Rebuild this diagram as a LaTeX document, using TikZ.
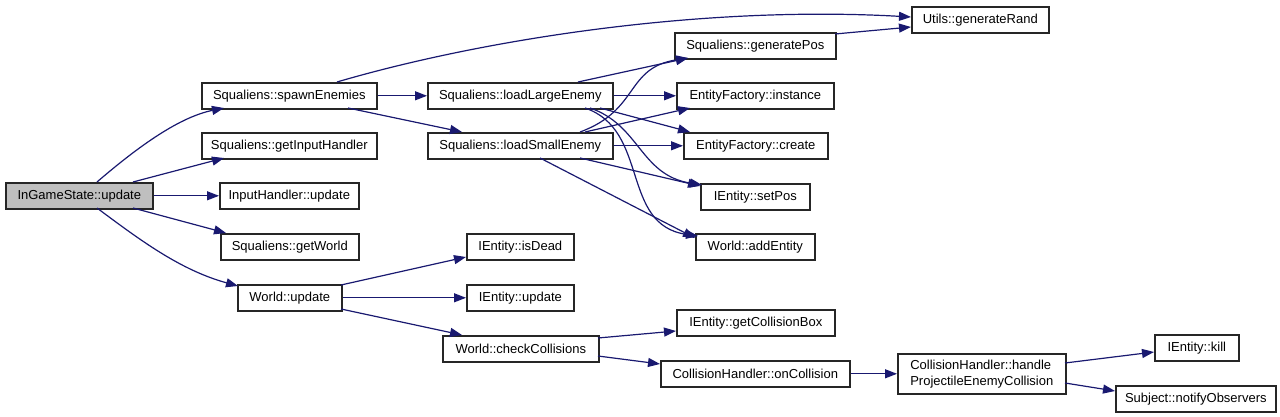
\documentclass[tikz,border=0pt]{standalone}
\usepackage{fontspec}
\setmainfont{Liberation Sans}
\usetikzlibrary{arrows.meta,calc}
\definecolor{edgeblue}{HTML}{191970}
\definecolor{focusgray}{HTML}{BFBFBF}
\tikzset{
  fnbox/.style={draw=black!85, line width=1.6pt, fill=white, anchor=north west,
    minimum height=26pt, inner sep=0pt, font=\fontsize{13}{16}\selectfont},
  call/.style={draw=edgeblue, line width=1.2pt,
    -{Triangle[length=12pt,width=9pt]}, edgeblue},
}
\begin{document}
\begin{tikzpicture}[x=1pt,y=-1pt]
\useasboundingbox (0,0) rectangle (1280,417);
% nodes
\node[fnbox, fill=focusgray, minimum width=147pt] (ig) at (5,182) {InGameState::update};
\node[fnbox, minimum width=175pt] (spawn) at (201,82) {Squaliens::spawnEnemies};
\node[fnbox, minimum width=175pt] (getIH) at (201,132) {Squaliens::getInputHandler};
\node[fnbox, minimum width=139pt] (ihupd) at (219,182) {InputHandler::update};
\node[fnbox, minimum width=138pt] (getWorld) at (220,233) {Squaliens::getWorld};
\node[fnbox, minimum width=104pt] (wupd) at (237,284) {World::update};
\node[fnbox, minimum width=185pt] (large) at (427,82) {Squaliens::loadLargeEnemy};
\node[fnbox, minimum width=185pt] (small) at (427,132) {Squaliens::loadSmallEnemy};
\node[fnbox, minimum width=161pt] (genPos) at (674,32) {Squaliens::generatePos};
\node[fnbox, minimum width=137pt] (rand) at (911,6) {Utils::generateRand};
\node[fnbox, minimum width=157pt] (inst) at (676,82) {EntityFactory::instance};
\node[fnbox, minimum width=144pt] (create) at (683,132) {EntityFactory::create};
\node[fnbox, minimum width=109pt] (setPos) at (700,183) {IEntity::setPos};
\node[fnbox, minimum width=119pt] (addEnt) at (695,233) {World::addEntity};
\node[fnbox, minimum width=107pt] (isDead) at (466,233) {IEntity::isDead};
\node[fnbox, minimum width=107pt] (eupd) at (466,284) {IEntity::update};
\node[fnbox, minimum width=156pt] (check) at (442,335) {World::checkCollisions};
\node[fnbox, minimum width=158pt] (box) at (676,309) {IEntity::getCollisionBox};
\node[fnbox, minimum width=189pt] (onCol) at (660,360) {CollisionHandler::onCollision};
\node[fnbox, minimum width=168pt, minimum height=40pt, align=left] (handle) at (897,353) {CollisionHandler::handle\\ProjectileEnemyCollision};
\node[fnbox, minimum width=84pt] (kill) at (1154,334) {IEntity::kill};
\node[fnbox, minimum width=160pt] (notify) at (1115,385) {Subject::notifyObservers};
% edges from InGameState::update
\draw[call] ($(ig.north west)+(92,0)$) .. controls (140,145) and (180,117) .. ($(spawn.north west)+(23,26)$);
\draw[call] ($(ig.north west)+(128,0)$) -- ($(getIH.north west)+(23,26)$);
\draw[call] (ig.east) -- (ihupd.west);
\draw[call] ($(ig.north west)+(128,26)$) -- ($(getWorld.north west)+(6,0)$);
\draw[call] ($(ig.north west)+(92,26)$) .. controls (140,240) and (180,270) .. ($(wupd.north west)+(1,2)$);
% spawnEnemies
\draw[call] ($(spawn.north west)+(136,0)$) .. controls (480,40) and (700,5) .. ($(rand.north west)+(0,11)$);
\draw[call] (spawn.east) -- (large.west);
\draw[call] ($(spawn.north west)+(147,26)$) -- ($(small.north west)+(35,0)$);
% loadLargeEnemy
\draw[call] ($(large.north west)+(151,0)$) -- ($(genPos.north west)+(14,26)$);
\draw[call] (large.east) -- (inst.west);
\draw[call] ($(large.north west)+(173,26)$) -- ($(create.north west)+(7,0)$);
\draw[call] ($(large.north west)+(163,26)$) .. controls (640,125) and (640,175) .. ($(setPos.north west)+(2,2)$);
\draw[call] ($(large.north west)+(158,26)$) .. controls (650,130) and (620,225) .. ($(addEnt.north west)+(3,3)$);
% loadSmallEnemy
\draw[call] ($(small.north west)+(153,0)$) .. controls (640,110) and (625,68) .. ($(genPos.north west)+(14,26)$);
\draw[call] ($(small.north west)+(158,0)$) -- ($(inst.north west)+(14,26)$);
\draw[call] (small.east) -- (create.west);
\draw[call] ($(small.north west)+(153,26)$) -- ($(setPos.north west)+(0,3)$);
\draw[call] ($(small.north west)+(113,26)$) -- ($(addEnt.north west)+(0,5)$);
% generatePos
\draw[call] ($(genPos.north west)+(161,2)$) -- ($(rand.north west)+(0,21)$);
% World::update
\draw[call] ($(wupd.north west)+(104,1)$) -- ($(isDead.north west)+(0,24)$);
\draw[call] (wupd.east) -- (eupd.west);
\draw[call] ($(wupd.north west)+(104,25)$) -- ($(check.north west)+(20,0)$);
% checkCollisions
\draw[call] ($(check.north west)+(156,3)$) -- ($(box.north west)+(0,22)$);
\draw[call] ($(check.north west)+(156,21)$) -- ($(onCol.north west)+(0,4)$);
\draw[call] (onCol.east) -- (handle.west);
% handle
\draw[call] ($(handle.north west)+(168,10)$) -- ($(kill.north west)+(0,18)$);
\draw[call] ($(handle.north west)+(168,30)$) -- ($(notify.north west)+(0,6)$);
\end{tikzpicture}
\end{document}
